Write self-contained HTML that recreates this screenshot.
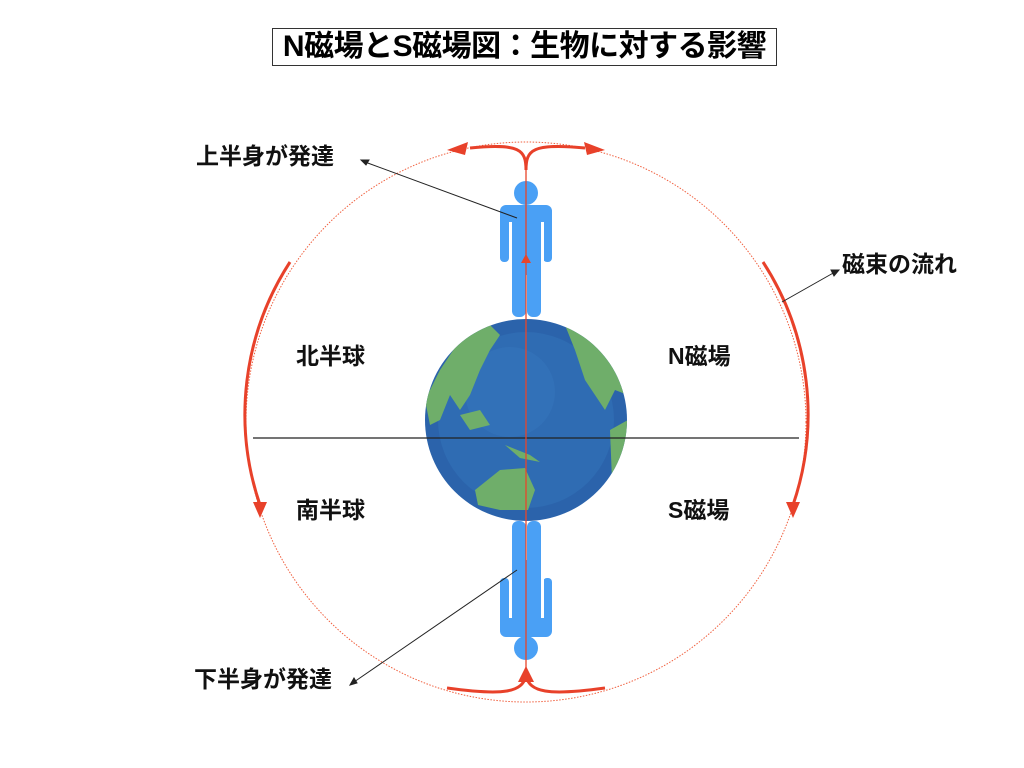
<!DOCTYPE html>
<html><head><meta charset="utf-8"><style>
body{margin:0;background:#fff;width:1024px;height:768px;overflow:hidden;position:relative;font-family:"Liberation Sans","Noto Sans CJK JP",sans-serif}
.t{position:absolute;font-weight:bold;font-size:23px;color:#111;white-space:nowrap;line-height:26px}
</style></head><body>
<div style="position:absolute;left:272px;top:28px;width:505px;height:38px;border:1px solid #333;box-sizing:border-box;text-align:center;font-weight:bold;font-size:30px;line-height:35px;letter-spacing:-0.5px">N磁場とS磁場図：生物に対する影響</div>
<svg width="1024" height="768" style="position:absolute;left:0;top:0">
<defs><clipPath id="g"><circle cx="526" cy="420" r="101"/></clipPath></defs>
<circle cx="526" cy="422" r="280" fill="none" stroke="#f0603f" stroke-width="1" stroke-dasharray="1.5 1.5"/>
<circle cx="526" cy="420" r="101" fill="#2b63ab"/>
<circle cx="526" cy="420" r="88" fill="#2f6cb3"/>
<circle cx="510" cy="392" r="45" fill="#3575bb" opacity=".6"/>
<g clip-path="url(#g)" fill="#6fae6a">
<path d="M425,400 L440,370 L460,340 L490,325 L500,335 L490,350 L480,370 L470,395 L460,410 L450,395 L440,420 L430,425 Z"/>
<path d="M565,325 L600,335 L620,360 L628,395 L615,390 L605,410 L595,395 L585,380 L575,350 Z"/>
<path d="M610,430 L628,420 L625,470 L612,480 Z"/>
<path d="M475,490 L500,470 L525,468 L535,490 L528,510 L500,510 L478,505 Z"/>
<path d="M505,445 L530,455 L540,462 L520,458 Z"/>
<path d="M460,415 L480,410 L490,425 L470,430 Z"/>
</g>
<line x1="253" y1="438" x2="799" y2="438" stroke="#222" stroke-width="1.2"/>
<g fill="#4aa0f5">
<circle cx="526" cy="193" r="12"/>
<rect x="500" y="205" width="52" height="30" rx="6"/>
<rect x="500" y="215" width="9" height="47" rx="4"/>
<rect x="543" y="215" width="9" height="47" rx="4"/>
<rect x="512" y="215" width="29" height="60"/>
<rect x="512" y="260" width="14" height="57" rx="6"/>
<rect x="527" y="260" width="14" height="57" rx="6"/>
<circle cx="526" cy="648" r="12"/>
<rect x="500" y="607" width="52" height="30" rx="6"/>
<rect x="500" y="578" width="9" height="47" rx="4"/>
<rect x="543" y="578" width="9" height="47" rx="4"/>
<rect x="512" y="560" width="29" height="60"/>
<rect x="512" y="521" width="14" height="60" rx="6"/>
<rect x="527" y="521" width="14" height="60" rx="6"/>
</g>
<g fill="#fff"><rect x="509" y="222" width="3" height="40"/><rect x="541" y="222" width="3" height="40"/><rect x="509" y="578" width="3" height="40"/><rect x="541" y="578" width="3" height="40"/></g>
<line x1="526" y1="170" x2="526" y2="668" stroke="#e8452a" stroke-width="1.3"/>
<polygon points="526,254 521,263 531,263" fill="#e8452a"/>
<g fill="none" stroke="#e8412a" stroke-width="3">
<path d="M526,170 C526,150 520,143 470,148"/>
<path d="M526,170 C526,150 532,143 585,148"/>
<path d="M526,676 C522,692 505,696 447,688"/>
<path d="M526,676 C530,692 547,696 605,688"/>
<path d="M290,262 A280 280 0 0 0 260,505"/>
<path d="M763,262 A280 280 0 0 1 793,505"/>
</g>
<g fill="#e8412a">
<polygon points="447,150 468,142 465,155"/>
<polygon points="605,150 584,142 587,155"/>
<polygon points="526,666 518,682 534,682"/>
<polygon points="260,518 253,502 267,502"/>
<polygon points="793,518 786,502 800,502"/>
</g>
<g stroke="#222" stroke-width="1" fill="#222">
<line x1="517" y1="218" x2="365" y2="162"/><polygon points="361,160 369,160 366,165"/>
<line x1="517" y1="570" x2="354" y2="682"/><polygon points="350,685 354,678 357,683"/>
<line x1="782" y1="302" x2="835" y2="272"/><polygon points="839,270 831,270 834,276"/>
</g>
</svg>
<div class="t" style="left:196px;top:143px">上半身が発達</div>
<div class="t" style="left:194px;top:666px">下半身が発達</div>
<div class="t" style="left:842px;top:251px">磁束の流れ</div>
<div class="t" style="left:296px;top:343px">北半球</div>
<div class="t" style="left:296px;top:497px">南半球</div>
<div class="t" style="left:668px;top:343px">N磁場</div>
<div class="t" style="left:668px;top:497px">S磁場</div>
</body></html>
